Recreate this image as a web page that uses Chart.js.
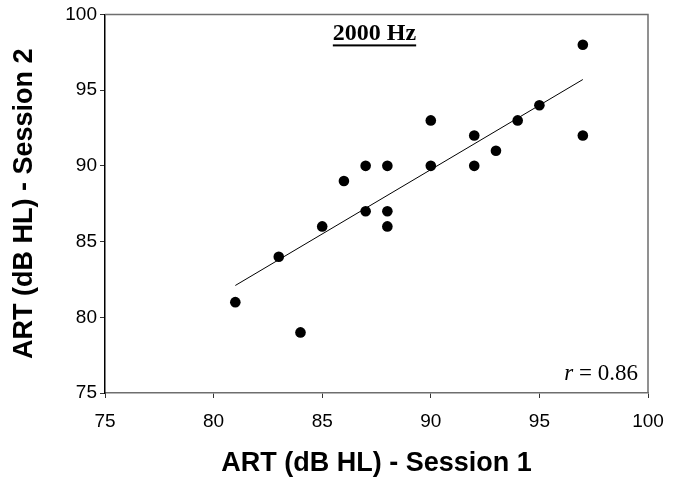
<!DOCTYPE html>
<html>
<head>
<meta charset="utf-8">
<script src="https://cdn.jsdelivr.net/npm/chart.js@4/dist/chart.umd.min.js"></script>
<style>
html,body{margin:0;padding:0;background:#fff;}
#wrap{width:684px;height:482px;}
</style>
</head>
<body>
<div id="wrap"><canvas id="c" width="684" height="482"></canvas></div>
<script>
// Data
const session1 = [81, 83, 84, 85, 86, 87, 87, 88, 88, 88, 90, 90, 92, 92, 93, 94, 95, 97, 97];
const session2 = [81, 84, 79, 86, 89, 90, 87, 90, 87, 86, 93, 90, 92, 90, 91, 93, 94, 98, 92];
const fitX = [81, 97];
const fitY = [82.1, 95.7];
const xTicks = [75, 80, 85, 90, 95, 100];
const yTicks = [75, 80, 85, 90, 95, 100];
const panelTitle = "2000 Hz";
const rLabel = "r";
const rValue = " = 0.86";
const xTitle = "ART (dB HL) - Session 1";
const yTitle = "ART (dB HL) - Session 2";

const points = session1.map((x, i) => ({x: x, y: session2[i]}));
const fitLine = fitX.map((x, i) => ({x: x, y: fitY[i]}));

const frameAndText = {
  id: 'frameAndText',
  beforeDatasetsDraw(chart) {
    const {ctx, chartArea: a} = chart;
    ctx.save();
    ctx.strokeStyle = '#6e6e6e';
    ctx.lineWidth = 1.5;
    ctx.beginPath();
    ctx.moveTo(a.left, a.top);
    ctx.lineTo(a.right, a.top);
    ctx.lineTo(a.right, a.bottom);
    ctx.stroke();
    ctx.restore();
  },
  afterDraw(chart) {
    const {ctx, chartArea: a} = chart;
    ctx.save();
    // panel title
    ctx.font = 'bold 24px "Liberation Serif", "Times New Roman", serif';
    ctx.fillStyle = '#000';
    ctx.textAlign = 'center';
    ctx.textBaseline = 'alphabetic';
    const cx = (a.left + a.right) / 2 - 2;
    const by = a.top + 26;
    ctx.fillText(panelTitle, cx, by);
    const w = ctx.measureText(panelTitle).width;
    ctx.fillRect(cx - w / 2, by + 4, w, 2);
    // r label
    ctx.textAlign = 'left';
    ctx.font = '23px "Liberation Serif", "Times New Roman", serif';
    const wv = ctx.measureText(rValue).width;
    ctx.font = 'italic 23px "Liberation Serif", "Times New Roman", serif';
    const wr = ctx.measureText(rLabel).width;
    const rx = a.right - 10 - wv - wr;
    const ry = a.bottom - 13;
    ctx.fillText(rLabel, rx, ry);
    ctx.font = '23px "Liberation Serif", "Times New Roman", serif';
    ctx.fillText(rValue, rx + wr, ry);
    ctx.restore();
  }
};

new Chart(document.getElementById('c'), {
  type: 'scatter',
  data: {
    datasets: [
      {
        label: 'ART',
        data: points,
        backgroundColor: '#000',
        borderColor: '#000',
        pointRadius: 5.3,
        pointHoverRadius: 5.3,
        pointBorderWidth: 0
      },
      {
        label: 'fit',
        data: fitLine,
        showLine: true,
        borderColor: '#000',
        borderWidth: 1,
        pointRadius: 0,
        fill: false
      }
    ]
  },
  options: {
    responsive: false,
    animation: false,
    layout: {padding: {left: 0, right: 36, top: 14, bottom: 0}},
    plugins: {legend: {display: false}, tooltip: {enabled: false}, title: {display: false}},
    scales: {
      x: {
        type: 'linear',
        min: 75, max: 100,
        afterBuildTicks: (s) => { s.ticks = xTicks.map(v => ({value: v})); },
        afterFit: (s) => { s.height = 89; },
        grid: {drawOnChartArea: false, drawTicks: true, tickLength: 5, tickColor: '#333'},
        border: {display: true, color: '#6e6e6e', width: 1.5},
        ticks: {color: '#000', padding: 12, font: {family: '"Liberation Sans", Arial, sans-serif', size: 19}},
        title: {display: true, text: xTitle, color: '#000', padding: {top: 0, bottom: 5}, font: {family: '"Liberation Sans", Arial, sans-serif', size: 27, weight: 'bold', lineHeight: 1}}
      },
      y: {
        type: 'linear',
        min: 75, max: 100,
        afterBuildTicks: (s) => { s.ticks = yTicks.map(v => ({value: v})); },
        afterFit: (s) => { s.width = 105; },
        grid: {drawOnChartArea: false, drawTicks: true, tickLength: 5, tickColor: '#333'},
        border: {display: true, color: '#000', width: 1.5},
        ticks: {color: '#000', padding: 3, font: {family: '"Liberation Sans", Arial, sans-serif', size: 19}},
        title: {display: true, text: yTitle, color: '#000', padding: {top: 11, bottom: 0}, font: {family: '"Liberation Sans", Arial, sans-serif', size: 27, weight: 'bold', lineHeight: 1}}
      }
    }
  },
  plugins: [frameAndText]
});
</script>
</body>
</html>
